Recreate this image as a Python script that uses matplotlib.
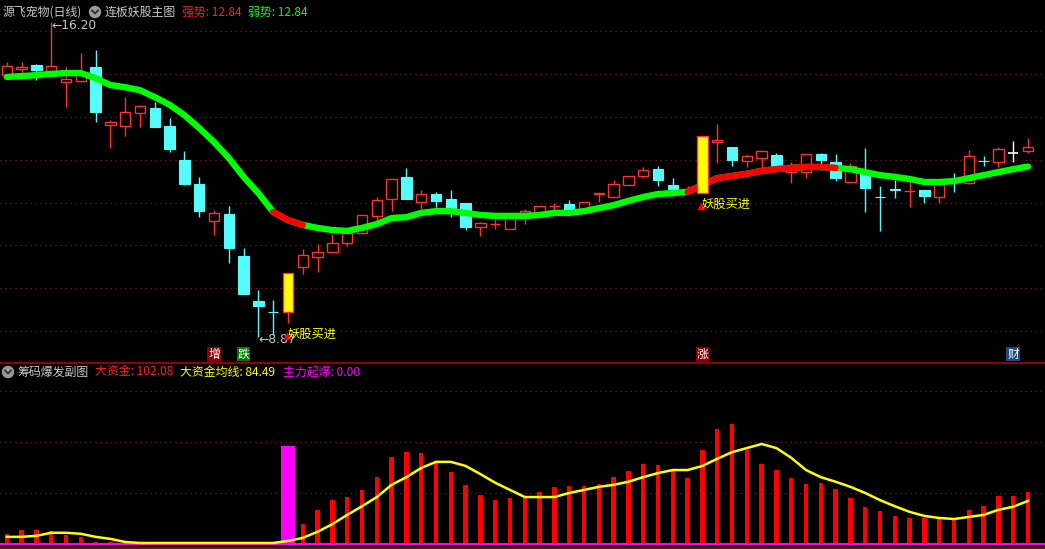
import numpy as np
import matplotlib
matplotlib.use('Agg')
import matplotlib.pyplot as plt
from matplotlib.patches import Circle

plt.rcParams['font.family'] = ['Noto Sans CJK SC', 'DejaVu Sans']
plt.rcParams['axes.unicode_minus'] = False

# ---------- K线数据 (日线, 70根) ----------
opens = [14.97, 15.11, 15.21, 15.07, 14.81, 14.83, 15.16, 13.81, 13.79, 14.09,
         14.21, 13.79, 12.99, 12.43, 11.57, 11.73, 10.76, 9.71, 9.46, 9.45,
         10.50, 10.73, 10.85, 11.06, 11.29, 11.69, 12.08, 12.60, 12.01, 12.20,
         12.08, 11.99, 11.43, 11.49, 11.38, 11.64, 11.76, 11.91, 11.97, 11.83,
         12.20, 12.13, 12.41, 12.62, 12.78, 12.41, 12.25, 12.22, 13.42, 13.30,
         12.97, 13.04, 13.11, 12.71, 12.71, 13.13, 12.95, 12.48, 12.67, 12.14,
         12.31, 12.26, 12.29, 12.13, 12.52, 12.46, 12.98, 12.95, 13.16, 13.20]
highs = [15.28, 15.28, 15.23, 16.20, 15.16, 15.49, 15.56, 13.93, 14.46, 14.28,
         14.35, 13.97, 13.20, 12.60, 11.83, 11.92, 10.94, 9.96, 9.73, 10.36,
         10.92, 11.03, 11.27, 11.31, 11.71, 12.13, 12.55, 12.81, 12.29, 12.25,
         12.29, 11.99, 11.55, 11.64, 11.66, 11.85, 11.92, 11.99, 12.06, 12.01,
         12.22, 12.53, 12.62, 12.83, 12.85, 12.57, 12.39, 13.55, 13.83, 13.30,
         13.13, 13.20, 13.16, 12.95, 13.13, 13.16, 13.13, 12.92, 13.27, 12.39,
         12.53, 12.53, 12.29, 12.43, 12.69, 13.23, 13.09, 13.30, 13.44, 13.51]
lows = [14.93, 15.04, 14.86, 15.02, 14.23, 14.81, 13.88, 13.27, 13.55, 13.76,
        13.76, 13.18, 12.41, 11.66, 11.24, 10.59, 9.87, 8.87, 8.91, 9.19,
        10.34, 10.38, 10.83, 10.99, 11.27, 11.57, 11.80, 12.08, 11.85, 11.90,
        11.66, 11.36, 11.22, 11.38, 11.38, 11.50, 11.72, 11.80, 11.80, 11.78,
        12.01, 12.13, 12.41, 12.57, 12.39, 12.29, 12.22, 12.22, 12.92, 12.85,
        12.83, 12.83, 12.85, 12.46, 12.57, 12.76, 12.50, 12.48, 11.78, 11.34,
        12.11, 11.90, 11.99, 11.99, 12.25, 12.43, 12.85, 12.83, 12.95, 13.16]
closes = [15.18, 15.16, 15.09, 15.18, 14.88, 15.00, 14.11, 13.88, 14.11, 14.25,
          13.76, 13.25, 12.43, 11.80, 11.76, 10.94, 9.87, 9.59, 9.44, 10.36,
          10.78, 10.85, 11.06, 11.29, 11.71, 12.06, 12.55, 12.08, 12.20, 12.04,
          11.85, 11.43, 11.52, 11.51, 11.66, 11.80, 11.92, 11.93, 11.80, 12.01,
          12.22, 12.43, 12.62, 12.76, 12.53, 12.32, 12.32, 13.55, 13.45, 12.99,
          13.09, 13.20, 12.85, 12.88, 13.13, 12.99, 12.57, 12.85, 12.34, 12.12,
          12.29, 12.28, 12.15, 12.43, 12.49, 13.09, 12.96, 13.25, 13.16, 13.30]

# 连板妖股主图: 趋势线 (强势红 / 弱势绿)
trend = [14.93, 14.95, 14.97, 15.00, 15.02, 15.02, 14.90, 14.74, 14.69, 14.62,
         14.46, 14.28, 14.04, 13.74, 13.41, 13.04, 12.60, 12.22, 11.78, 11.59,
         11.48, 11.41, 11.36, 11.34, 11.41, 11.50, 11.64, 11.66, 11.76, 11.80,
         11.80, 11.76, 11.71, 11.69, 11.69, 11.69, 11.71, 11.76, 11.76, 11.80,
         11.87, 11.94, 12.04, 12.13, 12.20, 12.22, 12.25, 12.41, 12.57, 12.62,
         12.67, 12.74, 12.78, 12.81, 12.83, 12.83, 12.81, 12.78, 12.71, 12.64,
         12.60, 12.55, 12.48, 12.48, 12.50, 12.57, 12.64, 12.71, 12.78, 12.84]
strong_ranges = [(18, 20), (46, 56)]
signal_bars = [19, 47]           # 妖股买进
high_label = (3, 16.20)
low_label = (17, 8.87)
event_tags = [(14, '增', '#8B0000'), (16, '跌', '#007A00'),
              (47, '涨', '#8B0000'), (68, '财', '#1C4A7A')]

# 筹码爆发副图
big_money = [19.6, 27.4, 27.4, 25.5, 17.6, 13.7, 3, 3, 3, 1.5,
             1.5, 1.5, 1.5, 1.5, 1.5, 1.5, 1.5, 1.5, 1.5, 1.5,
             39, 67, 86, 92, 106, 131, 171, 180, 178, 159,
             141, 116, 96, 86, 90, 92, 102, 112, 114, 114,
             118, 131, 143, 157, 155, 145, 129, 184, 225, 235,
             184, 157, 145, 129, 118, 120, 108, 90, 73, 65,
             55, 51, 51, 51, 49, 67, 74, 94, 94, 102.08]
big_money_ma = [14, 14, 16, 22, 22, 20, 14, 10, 4, 2,
                2, 2, 2, 2, 2, 2, 2, 2, 2, 6,
                12, 24, 39, 57, 74, 92, 116, 131, 149, 161,
                161, 153, 137, 120, 106, 92, 92, 92, 100, 106,
                112, 116, 122, 131, 139, 145, 145, 153, 167, 180,
                188, 196, 188, 169, 145, 131, 122, 112, 100, 86,
                74, 63, 55, 51, 49, 53, 57, 67, 73, 84.49]
ignite = [0] * 70
ignite[19] = 192

# ---------- 颜色 ----------
UP = '#FF3232'
DOWN = '#54FCFC'
GRID = '#8B1A1A'
GRAY = '#C8C8C8'

W, H = 1045, 549
fig = plt.figure(figsize=(W / 100, H / 100), dpi=100, facecolor='black')


def px_axes(top, bottom):
    a = fig.add_axes([0, 1 - bottom / H, 1, (bottom - top) / H])
    a.set_facecolor('black')
    a.axis('off')
    return a


x = np.arange(len(closes))
xlim = (-0.46, -0.46 + W / 14.8)

# ---------- 主图 ----------
ax = px_axes(0, 362)
ax.set_xlim(*xlim)
ax.set_ylim(8.284, 16.723)
for lvl in range(9, 17):
    ax.axhline(lvl, color=GRID, lw=0.9, ls=(0, (1, 3)), zorder=0)

for i in x:
    o, h, l, c = opens[i], highs[i], lows[i], closes[i]
    if i in signal_bars:
        continue
    if c > o:
        ax.vlines(i, c, h, color=UP, lw=1, zorder=2)
        ax.vlines(i, l, o, color=UP, lw=1, zorder=2)
        ax.bar(i, c - o, bottom=o, width=0.7, facecolor='black', edgecolor=UP, lw=1, zorder=2)
    elif c < o:
        ax.vlines(i, l, h, color=DOWN, lw=1, zorder=2)
        ax.bar(i, o - c, bottom=c, width=0.7, facecolor=DOWN, edgecolor=DOWN, lw=0.8, zorder=2)
    else:
        ax.vlines(i, l, h, color='white', lw=1, zorder=2)
        ax.hlines(c, i - 0.35, i + 0.35, color='white', lw=1.2, zorder=2)

ax.plot(x, trend, color='#00FF00', lw=4.6, solid_capstyle='round', zorder=3)
for a, b in strong_ranges:
    ax.plot(x[a:b + 1], trend[a:b + 1], color='#FF0000', lw=4.6, solid_capstyle='round', zorder=3.5)

# 妖股买进信号K线
for i in signal_bars:
    o, h, l, c = opens[i], highs[i], lows[i], closes[i]
    ax.vlines(i, l, o, color=UP, lw=1, zorder=4)
    ax.bar(i, c - o, bottom=o, width=0.72, facecolor='#FFFF00', edgecolor=UP, lw=1, zorder=4)
    ax.plot(i - 0.1, l - 0.3, marker='^', color='#FF0000', ms=5, zorder=5)
    ax.text(i - 0.05, l - 0.26, '妖股买进', color='#FFFF00', fontsize=8.8, va='center', ha='left', zorder=6)

ax.text(high_label[0], high_label[1] - 0.08, '←' + f'{high_label[1]:.2f}', color=GRAY,
        fontsize=8.8, va='center', ha='left', family=['DejaVu Sans'])
ax.text(low_label[0], low_label[1] - 0.07, '←' + f'{low_label[1]:.2f}', color=GRAY,
        fontsize=8.8, va='center', ha='left', family=['DejaVu Sans'])

for i, t, bg in event_tags:
    ax.text(i, 8.47, t, color='white', fontsize=8.5, ha='center', va='center',
            bbox=dict(boxstyle='square,pad=0.08', facecolor=bg, edgecolor='none'))

# ---------- 副图 ----------
ax2 = px_axes(364, 547)
ax2.set_xlim(*xlim)
ax2.set_ylim(-5.9, 352.8)
for lvl in (100, 200, 300):
    ax2.axhline(lvl, color=GRID, lw=0.9, ls=(0, (1, 3)), zorder=0)
ax2.bar(x, big_money, width=0.3, color='#FF0000', zorder=2)
ax2.bar(x, ignite, width=0.88, color='#FF00FF', zorder=2.5)
ax2.axhline(0, color='#FF00FF', lw=1.5, zorder=3)
ax2.plot(x, big_money_ma, color='#FFFF00', lw=1.8, zorder=4)

# ---------- 标题栏与分隔线 ----------
ov = fig.add_axes([0, 0, 1, 1])
ov.set_xlim(0, W)
ov.set_ylim(H, 0)
ov.axis('off')
ov.patch.set_alpha(0)
ov.plot([0, W], [363, 363], color='#B00000', lw=1.2)
ov.plot([0, W], [547.5, 547.5], color='#B00000', lw=1.2)

fs = 8.6
ov.text(3, 12, '源飞宠物(日线)', color=GRAY, fontsize=fs, va='center')
ov.add_patch(Circle((95, 12), 5.5, color='#9A9A9A'))
ov.plot([92, 95, 98], [10.5, 13.5, 10.5], color='#303030', lw=1.3)
ov.text(105, 12, '连板妖股主图', color=GRAY, fontsize=fs, va='center')
ov.text(182, 12, f'强势: {trend[-1]:.2f}', color='#FF2020', fontsize=fs, va='center')
ov.text(248, 12, f'弱势: {trend[-1]:.2f}', color='#00FF00', fontsize=fs, va='center')

ov.add_patch(Circle((8, 372), 5.5, color='#9A9A9A'))
ov.plot([5, 8, 11], [370.5, 373.5, 370.5], color='#303030', lw=1.3)
ov.text(17, 372, '筹码爆发副图', color=GRAY, fontsize=fs, va='center')
ov.text(95, 372, f'大资金: {big_money[-1]:.2f}', color='#FF2020', fontsize=fs, va='center')
ov.text(180, 372, f'大资金均线: {big_money_ma[-1]:.2f}', color='#FFFF00', fontsize=fs, va='center')
ov.text(283, 372, f'主力起爆: {ignite[-1]:.2f}', color='#FF00FF', fontsize=fs, va='center')

plt.savefig('out.png', dpi=100, facecolor='black')
